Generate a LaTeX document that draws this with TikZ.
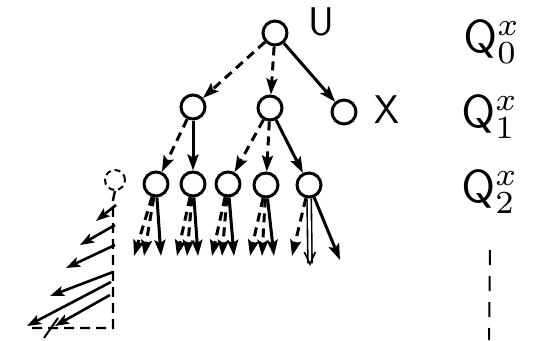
\documentclass[tikz,border=0pt]{standalone}
\usetikzlibrary{arrows.meta}
\begin{document}
\begin{tikzpicture}[x=1pt,y=-1pt,
  vert/.style={circle,draw,line width=3pt,minimum size=24pt,inner sep=0pt},
  ghost/.style={circle,draw,line width=2pt,dash pattern=on 6pt off 4pt,minimum size=20pt,inner sep=0pt},
  tip/.style={-{Stealth[length=16pt,width=11pt,inset=3pt]}},
  solidarc/.style={tip,line width=3pt},
  dasharc/.style={tip,line width=3pt,dash pattern=on 9pt off 6pt},
  hatch/.style={-{Stealth[length=14pt,width=10pt,inset=3pt]},line width=2.6pt},
  edge/.style={line width=2.4pt,dash pattern=on 10pt off 6pt},
  lbl/.style={font=\sffamily\fontsize{40}{40}\selectfont,inner sep=0pt},
  qlbl/.style={inner sep=0pt}]
\useasboundingbox (0,0) rectangle (537,340);

% tree vertices
\node[vert] (u) at (275,33) {};
\node[vert] (a) at (193,107) {};
\node[vert] (b) at (270,108) {};
\node[vert] (x) at (344,112) {};
\node[vert] (c1) at (156,184) {};
\node[vert] (c2) at (193,184) {};
\node[vert] (c3) at (228,184) {};
\node[vert] (c4) at (266,185) {};
\node[vert] (c5) at (309,185) {};
\node[ghost] (g) at (115,180) {};

% vertex labels
\node[lbl] (lu) at (321,22) {U};
\node[lbl] (lx) at (387,110) {X};

% upper arcs
\draw[dasharc] (u) -- (a);
\draw[dasharc] (u) -- (b);
\draw[solidarc] (u) -- (x);
\draw[dasharc] (a) -- (c1);
\draw[solidarc] (a) -- (c2);
\draw[dasharc] (b) -- (c3);
\draw[dasharc] (b) -- (c4);
\draw[solidarc] (b) -- (c5);

% leaf ends
\coordinate (l11) at (134,256); \coordinate (l12) at (144,256); \coordinate (l13) at (161,256);
\coordinate (l21) at (177,256); \coordinate (l22) at (187,256); \coordinate (l23) at (198,256);
\coordinate (l31) at (212,256); \coordinate (l32) at (222,256); \coordinate (l33) at (234,256);
\coordinate (l41) at (250,256); \coordinate (l42) at (262,256); \coordinate (l43) at (274,256);
\coordinate (l51) at (292,256); \coordinate (l52) at (310,266); \coordinate (l53) at (340,260);

% lower arcs
\foreach \n in {1,2,3,4}{
  \draw[dasharc] (c\n) -- (l\n1);
  \draw[dasharc] (c\n) -- (l\n2);
  \draw[solidarc] (c\n) -- (l\n3);
}
\draw[dasharc] (c5) -- (l51);
\draw[double,double distance=2.6pt,line width=1.6pt,-{Straight Barb[length=12pt,width=11pt]}] (c5) -- (l52);
\draw[solidarc] (c5) -- (l53);

% hatched region below the dashed vertex
\coordinate (t1) at (113,200);
\coordinate (t2) at (113,328);
\coordinate (t3) at (28,328);
\draw[edge] (g.south) -- (t1) -- (t2) -- (t3);
\draw[hatch] (116,205) -- (96,221);
\draw[hatch] (115,225) -- (80,245);
\draw[hatch] (115,245) -- (66,268);
\draw[hatch] (113,272) -- (50,296);
\draw[hatch] (111,282) -- (27,326);
\draw[hatch] (110,295) -- (55,326);
\draw[line width=2pt] (58,318) -- (44,338);

% levels
\node[qlbl] (q0) at (492,42) {\scalebox{4.6}{$\mathsf{Q}^{x}_{0}$}};
\node[qlbl] (q1) at (490,117) {\scalebox{4.6}{$\mathsf{Q}^{x}_{1}$}};
\node[qlbl] (q2) at (490,192) {\scalebox{4.6}{$\mathsf{Q}^{x}_{2}$}};
\coordinate (qd1) at (490,250);
\coordinate (qd2) at (489,340);
\draw[line width=2pt,dash pattern=on 15pt off 11pt] (qd1) -- (qd2);
\end{tikzpicture}
\end{document}
